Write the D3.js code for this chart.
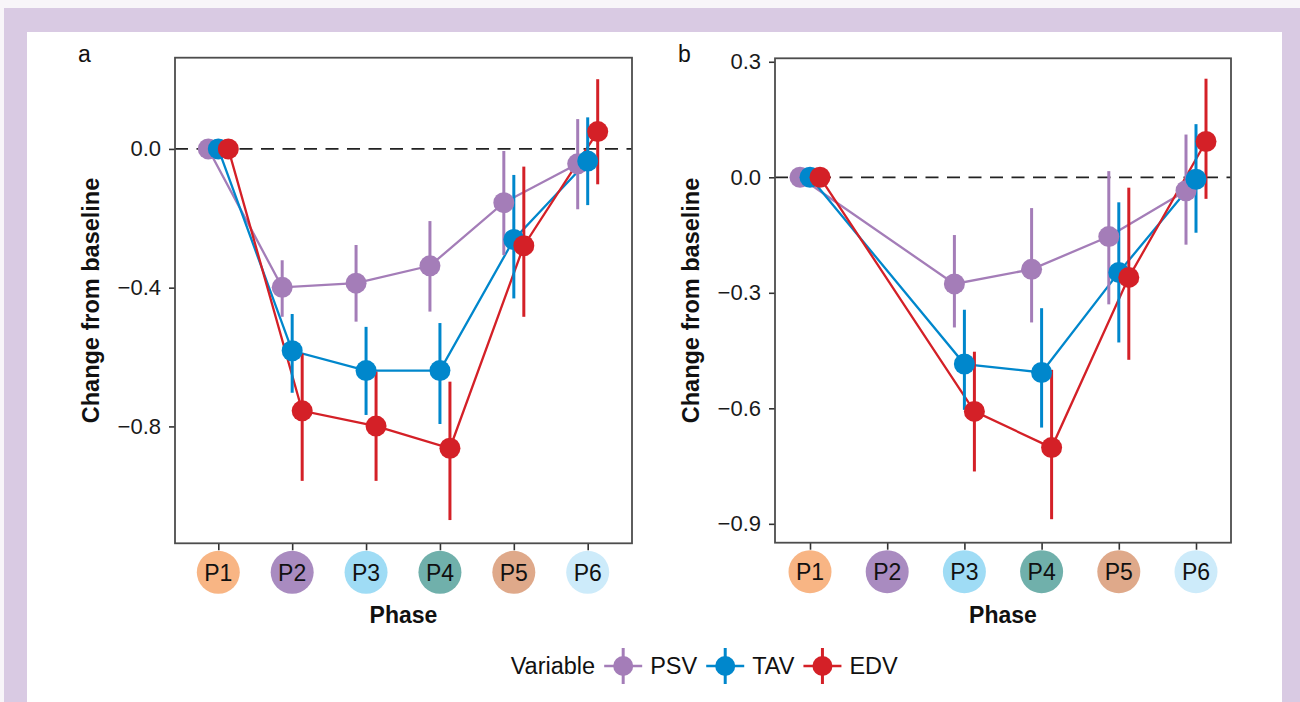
<!DOCTYPE html>
<html>
<head>
<meta charset="utf-8">
<script src="https://cdn.jsdelivr.net/npm/d3@7"></script>
<style>
  body { margin: 0; background: #f8f5f9; }
  svg { display: block; font-family: "Liberation Sans", Arial, sans-serif; }
</style>
</head>
<body>
<div class="diagram"></div>
<script>
var width = 1300, height = 702;

// data
var phases = ["P1", "P2", "P3", "P4", "P5", "P6"];
var phaseColors = ["#f8b584", "#a98bc0", "#9fdcf5", "#70b0ab", "#dfa98a", "#cdebfa"];
var variables = ["PSV", "TAV", "EDV"];
var varColors = ["#a47db8", "#0087cc", "#d42027"];

// panel a
var aPSV = [0, -0.399, -0.387, -0.337, -0.155, -0.043];
var aPSVhi = [0, -0.321, -0.277, -0.208, -0.006, 0.086];
var aPSVlo = [0, -0.484, -0.498, -0.469, -0.306, -0.174];
var aTAV = [0, -0.582, -0.639, -0.639, -0.261, -0.035];
var aTAVhi = [0, -0.476, -0.513, -0.502, -0.075, 0.091];
var aTAVlo = [0, -0.703, -0.767, -0.793, -0.431, -0.162];
var aEDV = [0, -0.755, -0.799, -0.863, -0.279, 0.05];
var aEDVhi = [0, -0.59, -0.642, -0.671, -0.051, 0.201];
var aEDVlo = [0, -0.957, -0.957, -1.07, -0.484, -0.102];
var aTicks = [0, -0.4, -0.8];

// panel b (no P2 measurement)
var bPSV = [0, null, -0.277, -0.239, -0.154, -0.035];
var bPSVhi = [0, null, -0.150, -0.080, 0.016, 0.111];
var bPSVlo = [0, null, -0.390, -0.377, -0.330, -0.175];
var bTAV = [0, null, -0.485, -0.507, -0.247, -0.005];
var bTAVhi = [0, null, -0.344, -0.340, -0.065, 0.138];
var bTAVlo = [0, null, -0.604, -0.650, -0.429, -0.144];
var bEDV = [0, null, -0.608, -0.702, -0.260, 0.093];
var bEDVhi = [0, null, -0.453, -0.500, -0.027, 0.256];
var bEDVlo = [0, null, -0.764, -0.888, -0.474, -0.056];
var bTicks = [0.3, 0, -0.3, -0.6, -0.9];

function series(mean, hi, lo) {
  return variables.map(function(v, i) {
    return {
      id: v,
      color: varColors[i],
      values: phases.map(function(p, j) {
        return {id: v, color: varColors[i], phase: p, mean: mean[i][j], hi: hi[i][j], lo: lo[i][j]};
      }).filter(function(d) { return d.mean !== null; })
    };
  });
}

var panels = [
  {
    letter: "a",
    box: {left: 175, right: 632, top: 57.7, bottom: 543.3},
    xRange: [218.3, 587.7],
    yDomain: [-1.137, 0.263],
    ticks: aTicks,
    data: series([aPSV, aTAV, aEDV], [aPSVhi, aTAVhi, aEDVhi], [aPSVlo, aTAVlo, aEDVlo])
  },
  {
    letter: "b",
    box: {left: 775, right: 1231, top: 58.3, bottom: 542.7},
    xRange: [810, 1196],
    yDomain: [-0.949, 0.309],
    ticks: bTicks,
    data: series([bPSV, bTAV, bEDV], [bPSVhi, bTAVhi, bEDVhi], [bPSVlo, bTAVlo, bEDVlo])
  }
];

var svg = d3.select('.diagram')
  .append('svg')
  .attr('width', width)
  .attr('height', height);

// lavender frame
svg.append('rect')
  .attr('x', 4).attr('y', 8)
  .attr('width', width - 4).attr('height', height - 8)
  .attr('fill', '#d9cae3');
svg.append('rect')
  .attr('x', 27).attr('y', 32)
  .attr('width', 1282 - 27).attr('height', height - 32)
  .attr('fill', '#fff');

var dodge = d3.scalePoint().domain(variables).range([-10, 10]);

panels.forEach(function(p) {
  var b = p.box;
  var x = d3.scalePoint().domain(phases).range(p.xRange);
  var y = d3.scaleLinear().domain(p.yDomain).range([b.bottom, b.top]);
  var g = svg.append('g');

  g.append('text')
    .attr('x', b.left - 97)
    .attr('y', b.top + 4)
    .attr('font-size', 23)
    .attr('fill', '#111')
    .text(p.letter);

  // y axis
  var ya = g.append('g')
    .attr('transform', 'translate(' + b.left + ',0)')
    .call(d3.axisLeft(y).tickValues(p.ticks).tickFormat(d3.format('.1f')).tickSize(6).tickPadding(8));
  ya.attr('font-size', null).attr('font-family', null);
  ya.select('.domain').remove();
  ya.selectAll('.tick line').attr('stroke', '#333').attr('stroke-width', 1.6);
  ya.selectAll('.tick text').attr('font-size', 22).attr('fill', '#1a1a1a');

  // x axis, labels replaced by coloured discs
  var xa = g.append('g')
    .attr('transform', 'translate(0,' + b.bottom + ')')
    .call(d3.axisBottom(x).tickSize(7).tickFormat(''));
  xa.select('.domain').remove();
  xa.selectAll('.tick line').attr('stroke', '#333').attr('stroke-width', 1.6);

  var disc = g.selectAll('.disc')
    .data(phases)
    .enter().append('g')
    .attr('class', 'disc')
    .attr('transform', function(d) { return 'translate(' + x(d) + ',' + (b.bottom + 29) + ')'; });
  disc.append('circle')
    .attr('r', 21.5)
    .attr('fill', function(d, i) { return phaseColors[i]; });
  disc.append('text')
    .attr('text-anchor', 'middle')
    .attr('dy', '0.36em')
    .attr('font-size', 23)
    .attr('fill', '#111')
    .text(function(d) { return d; });

  g.append('text')
    .attr('x', (b.left + b.right) / 2)
    .attr('y', b.bottom + 80)
    .attr('text-anchor', 'middle')
    .attr('font-size', 23)
    .attr('font-weight', 'bold')
    .attr('fill', '#111')
    .text('Phase');

  g.append('text')
    .attr('transform', 'translate(' + (b.left - 76) + ',' + ((b.top + b.bottom) / 2) + ') rotate(-90)')
    .attr('text-anchor', 'middle')
    .attr('font-size', 23.5)
    .attr('font-weight', 'bold')
    .attr('fill', '#111')
    .text('Change from baseline');

  // zero reference line
  g.append('line')
    .attr('x1', b.left).attr('x2', b.right)
    .attr('y1', y(0)).attr('y2', y(0))
    .attr('stroke', '#222')
    .attr('stroke-width', 1.8)
    .attr('stroke-dasharray', '13,8.5');

  var line = d3.line()
    .x(function(d) { return x(d.phase) + dodge(d.id); })
    .y(function(d) { return y(d.mean); });

  g.selectAll('.line')
    .data(p.data)
    .enter().append('path')
    .attr('class', 'line')
    .attr('fill', 'none')
    .attr('stroke', function(d) { return d.color; })
    .attr('stroke-width', 2.3)
    .attr('d', function(d) { return line(d.values); });

  var grp = g.selectAll('.err')
    .data(p.data)
    .enter().append('g')
    .attr('class', 'err');

  grp.selectAll('line')
    .data(function(d) { return d.values; })
    .enter().append('line')
    .attr('x1', function(d) { return x(d.phase) + dodge(d.id); })
    .attr('x2', function(d) { return x(d.phase) + dodge(d.id); })
    .attr('y1', function(d) { return y(d.hi); })
    .attr('y2', function(d) { return y(d.lo); })
    .attr('stroke', function(d) { return d.color; })
    .attr('stroke-width', 3);

  var pts = g.selectAll('.pts')
    .data(p.data)
    .enter().append('g')
    .attr('class', 'pts');

  pts.selectAll('circle')
    .data(function(d) { return d.values; })
    .enter().append('circle')
    .attr('cx', function(d) { return x(d.phase) + dodge(d.id); })
    .attr('cy', function(d) { return y(d.mean); })
    .attr('r', 10.5)
    .attr('fill', function(d) { return d.color; });

  // panel border
  g.append('rect')
    .attr('x', b.left).attr('y', b.top)
    .attr('width', b.right - b.left).attr('height', b.bottom - b.top)
    .attr('fill', 'none')
    .attr('stroke', '#4d4d4d')
    .attr('stroke-width', 1.8);
});

// legend
var legend = svg.append('g').attr('transform', 'translate(0,666)');
var cx = 510.7;
var title = legend.append('text')
  .attr('x', cx).attr('dy', '0.36em')
  .attr('font-size', 23.5).attr('fill', '#111')
  .text('Variable');
cx += title.node().getComputedTextLength() + 9;

variables.forEach(function(v, i) {
  var k = legend.append('g').attr('transform', 'translate(' + (cx + 19) + ',0)');
  k.append('line').attr('x1', -19).attr('x2', 19)
    .attr('stroke', varColors[i]).attr('stroke-width', 2.5);
  k.append('line').attr('y1', -18).attr('y2', 18)
    .attr('stroke', varColors[i]).attr('stroke-width', 3);
  k.append('circle').attr('r', 10).attr('fill', varColors[i]);
  cx += 38 + 8;
  var t = legend.append('text')
    .attr('x', cx).attr('dy', '0.36em')
    .attr('font-size', 23.5).attr('fill', '#111')
    .text(v);
  cx += t.node().getComputedTextLength() + 9;
});
</script>
</body>
</html>
